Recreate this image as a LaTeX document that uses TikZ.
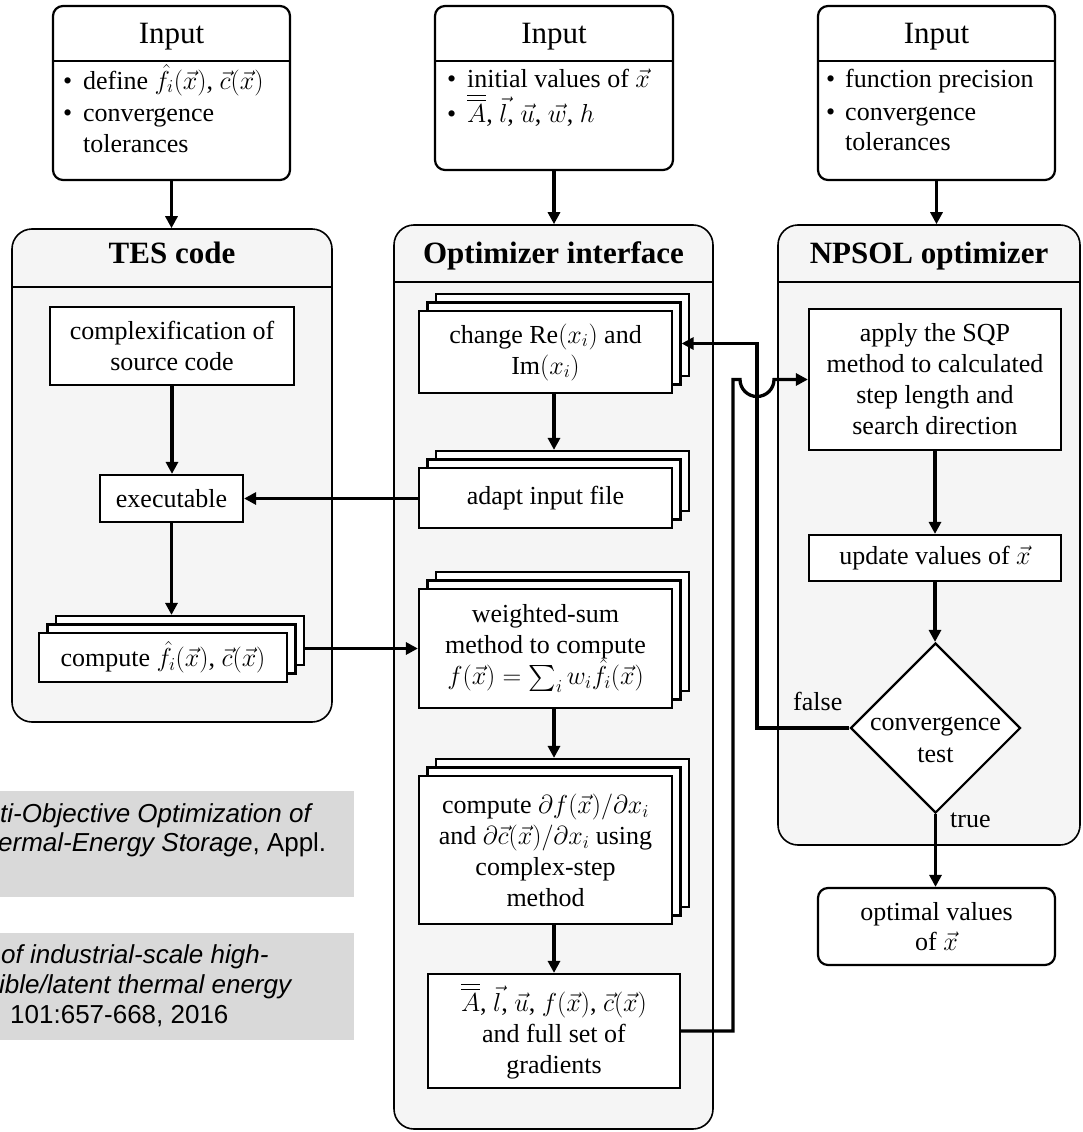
\RequirePackage{fix-cm}
\documentclass[tikz,border=0pt]{standalone}
\usepackage{amsmath}
\usepackage{fontspec}
\setmainfont{Liberation Serif}
\newfontfamily\notefont{Liberation Sans}
\usetikzlibrary{arrows.meta,shapes.geometric,calc}
\DeclareFontShape{OMX}{cmex}{m}{n}{<->cmex10}{}
\definecolor{panelfill}{RGB}{245,245,245}
\definecolor{notefill}{RGB}{217,217,217}
\newcommand\dbarA{{\overline{\overline{A}}}}
\tikzset{
  inbox/.style={draw, line width=2.2pt, rounded corners=10pt, fill=white, inner sep=0pt},
  panel/.style={draw, line width=1.6pt, rounded corners=20pt, fill=panelfill, inner sep=0pt},
  procbox/.style={draw, line width=2.2pt, fill=white, align=center, inner sep=2pt, font=\fontsize{26}{31}\selectfont},
  conn/.style={line width=3.3pt, -{Triangle[length=12pt,width=12pt]}},
  divider/.style={line width=2pt},
  paneldiv/.style={line width=1.6pt},
  titletext/.style={anchor=base, inner sep=0pt, font=\fontsize{31}{36}\selectfont},
  paneltitle/.style={anchor=base, inner sep=0pt, font=\fontsize{31}{36}\selectfont\bfseries},
  bodytext/.style={anchor=base west, inner sep=0pt, font=\fontsize{26}{30}\selectfont},
  centertext/.style={anchor=base, inner sep=0pt, font=\fontsize{26}{30}\selectfont},
  notebox/.style={fill=notefill, draw=none, inner sep=0pt, anchor=north west},
  notetext/.style={anchor=base west, inner sep=0pt, font=\notefont\fontsize{26}{30}\selectfont},
}
\newcommand\stackbox[6]{%
  \node[procbox, minimum width=#4, minimum height=#5] (#1B) at (#2+17,#3-17) {};
  \node[procbox, minimum width=#4, minimum height=#5] (#1M) at (#2+8.5,#3-8.5) {};
  \node[procbox, minimum width=#4, minimum height=#5] (#1) at (#2,#3) {#6};
}
\begin{document}
\begin{tikzpicture}[x=1pt,y=-1pt]
\useasboundingbox (0,0) rectangle (1082,1132);
\clip (0,0) rectangle (1082,1132);

% ---------- panels ----------
\node[panel, minimum width=320, minimum height=493] (tes) at (172,475.5) {};
\node[panel, minimum width=319, minimum height=904] (opt) at (553.5,677) {};
\node[panel, minimum width=302, minimum height=620] (nps) at (929,535) {};
\draw[paneldiv] (12,287) -- (332,287);
\draw[paneldiv] (394,282) -- (713,282);
\draw[paneldiv] (778,282) -- (1080,282);
\node[paneltitle] (testitle) at (172,263) {TES code};
\node[paneltitle] (opttitle) at (553.5,263) {Optimizer interface};
\node[paneltitle] (npstitle) at (929,263) {NPSOL optimizer};

% ---------- reference notes ----------
\node[notebox, minimum width=359, minimum height=106] (note1) at (-5,791) {};
\node[notebox, minimum width=359, minimum height=107] (note2) at (-5,933) {};
\node[notetext] (n1a) at (0,822) {\itshape ti-Objective Optimization of};
\node[notetext] (n1b) at (-2,851) {\textit{ermal-Energy Storage}, Appl.};
\node[notetext] (n2a) at (1,963) {\itshape of industrial-scale high-};
\node[notetext] (n2b) at (-1,993) {\itshape ible/latent thermal energy};
\node[notetext] (n2c) at (10,1023) {101:657-668, 2016};

% ---------- input boxes ----------
\node[inbox, minimum width=237, minimum height=174] (in1) at (171.5,93) {};
\node[inbox, minimum width=238, minimum height=164] (in2) at (554,88) {};
\node[inbox, minimum width=237, minimum height=174] (in3) at (936.5,93) {};
\draw[divider] (53,61) -- (290,61);
\draw[divider] (435,61) -- (673,61);
\draw[divider] (818,61) -- (1055,61);
\node[titletext] (in1t) at (171.5,44) {Input};
\node[titletext] (in2t) at (554,44) {Input};
\node[titletext] (in3t) at (936.5,44) {Input};

\node[bodytext] (b1a) at (63,89) {\textbullet};
\node[bodytext] (t1a) at (83,89) {define $\hat{f}_i(\vec{x})$, $\vec{c}(\vec{x})$};
\node[bodytext] (b1b) at (63,121) {\textbullet};
\node[bodytext] (t1b) at (83,121) {convergence};
\node[bodytext] (t1c) at (83,152) {tolerances};

\node[bodytext] (b2a) at (447,88) {\textbullet};
\node[bodytext] (t2a) at (467,88) {initial values of $\vec{x}$};
\node[bodytext] (b2b) at (447,122) {\textbullet};
\node[bodytext] (t2b) at (467,122) {$\dbarA$, $\vec{l}$, $\vec{u}$, $\vec{w}$, $h$};

\node[bodytext] (b3a) at (826,88) {\textbullet};
\node[bodytext] (t3a) at (845,88) {function precision};
\node[bodytext] (b3b) at (826,120) {\textbullet};
\node[bodytext] (t3b) at (845,120) {convergence};
\node[bodytext] (t3c) at (845,150) {tolerances};

% ---------- TES code ----------
\node[procbox, minimum width=244, minimum height=78] (cplx) at (172,346) {complexification of\\source code};
\node[procbox, minimum width=143, minimum height=47] (exec) at (171.5,498.5) {executable};
\stackbox{compute}{163}{657.5}{248}{49}{compute $\hat{f}_i(\vec{x})$, $\vec{c}(\vec{x})$}

% ---------- optimizer interface ----------
\stackbox{chg}{545.5}{352}{253}{82}{change $\mathrm{Re}(x_i)$ and\\$\mathrm{Im}(x_i)$}
\stackbox{adapt}{545.5}{498}{253}{60}{adapt input file}
\stackbox{ws}{545.5}{648.5}{253}{119}{weighted-sum\\method to compute\\$f(\vec{x})=\sum_i w_i\hat{f}_i(\vec{x})$}
\stackbox{grad}{545.5}{850}{253}{148}{compute $\partial f(\vec{x})/\partial x_i$\\and $\partial\vec{c}(\vec{x})/\partial x_i$ using\\complex-step\\method}
\node[procbox, minimum width=252, minimum height=114] (gradbox) at (554,1031) {$\dbarA$, $\vec{l}$, $\vec{u}$, $f(\vec{x})$, $\vec{c}(\vec{x})$\\and full set of\\gradients};

% ---------- NPSOL ----------
\node[procbox, minimum width=252, minimum height=141] (sqp) at (935,379.5) {apply the SQP\\method to calculated\\step length and\\search direction};
\node[procbox, minimum width=252, minimum height=46] (upd) at (935,558) {update values of $\vec{x}$};
\node[diamond, draw, line width=2.2pt, fill=white, inner sep=0pt, minimum width=170, minimum height=170] (conv) at (935.5,728) {};
\node[centertext] (convt1) at (935.5,730) {convergence};
\node[centertext] (convt2) at (935.5,762) {test};
\node[inbox, minimum width=237, minimum height=77, align=center, font=\fontsize{26}{30}\selectfont] (result) at (936.5,926.5) {optimal values\\of $\vec{x}$};
\node[bodytext] (falsel) at (793,710) {false};
\node[bodytext] (truel) at (950,827) {true};

% ---------- connectors ----------
\coordinate (xf) at (757,0);
\coordinate (xg) at (733,0);
\draw[conn] (in1.south) -- (in1.south |- tes.north);
\draw[conn] (in2.south) -- (in2.south |- opt.north);
\draw[conn] (in3.south) -- (in3.south |- nps.north);
\draw[conn] (cplx.south) -- (cplx.south |- exec.north);
\draw[conn] (exec.south) -- (exec.south |- computeB.north);
\draw[conn] (computeB.east |- ws.west) -- (ws.west);
\draw[conn] (adapt.west |- exec.east) -- (exec.east);
\draw[conn] (chgM.south |- chg.south) -- (chgM.south |- adaptB.north);
\draw[conn] (wsM.south |- ws.south) -- (wsM.south |- gradB.north);
\draw[conn] (gradM.south |- grad.south) -- (gradM.south |- gradbox.north);
\draw[conn] (sqp.south) -- (upd.north);
\draw[conn] (upd.south) -- (upd.south |- conv.north);
\draw[conn] (conv.south) -- (conv.south |- result.north);
\draw[conn] (conv.west) -- (conv.west -| xf) -- (xf |- chgM.east) -- (chgM.east);
\draw[conn] (gradbox.east) -- (gradbox.east -| xg) -- (xg |- sqp.west)
   -- ($(xf |- sqp.west)+(-17,0)$) arc[start angle=180, end angle=360, radius=17pt] -- (sqp.west);
\end{tikzpicture}
\end{document}
